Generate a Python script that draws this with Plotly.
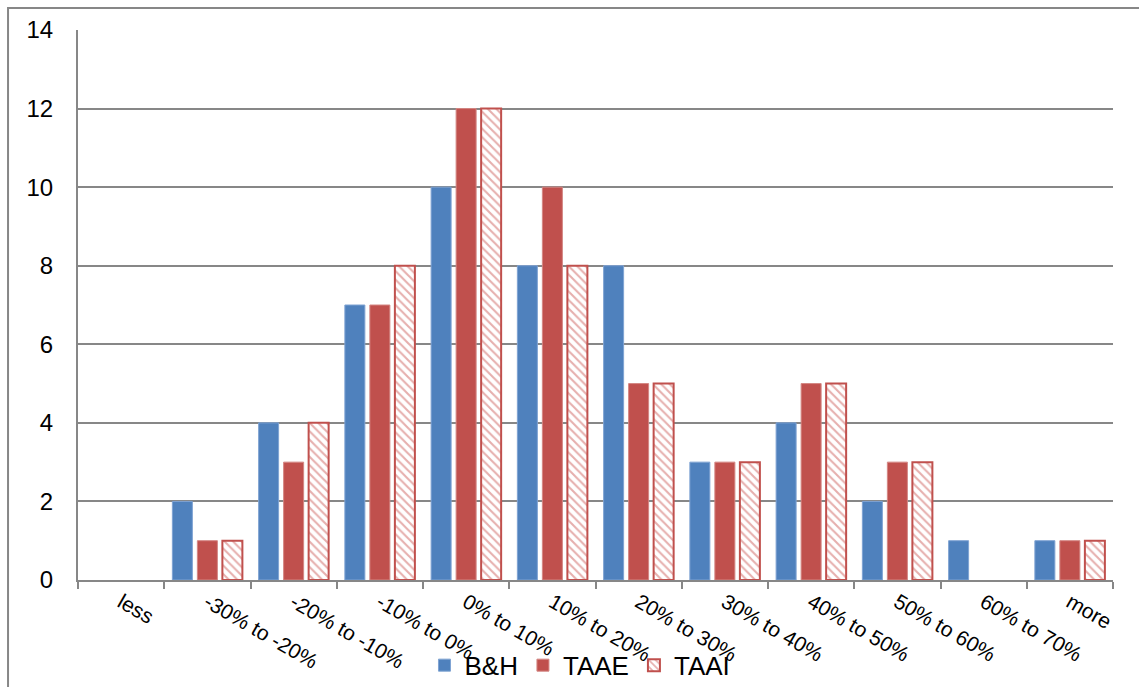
import plotly.graph_objects as go

categories = ["less", "-30% to -20%", "-20% to -10%", "-10% to 0%", "0% to 10%",
              "10% to 20%", "20% to 30%", "30% to 40%", "40% to 50%",
              "50% to 60%", "60% to 70%", "more"]
bh = [0, 2, 4, 7, 10, 8, 8, 3, 4, 2, 1, 1]
taae = [0, 1, 3, 7, 12, 10, 5, 3, 5, 3, 0, 1]
taai = [0, 1, 4, 8, 12, 8, 5, 3, 5, 3, 0, 1]
y_ticks = [0, 2, 4, 6, 8, 10, 12, 14]

BLUE = "#4F81BD"
RED = "#C0504D"
GRID = "#878787"
FONT = "Liberation Sans, Arial, sans-serif"


def drawn(values):
    # empty bins are left undrawn so their outline does not show on the axis
    return [v if v else None for v in values]


fig = go.Figure()
fig.add_trace(go.Bar(x=categories, y=drawn(bh), name="B&H",
                     marker=dict(color=BLUE, line=dict(color="#7FA3D3", width=1))))
fig.add_trace(go.Bar(x=categories, y=drawn(taae), name="TAAE",
                     marker=dict(color=RED, line=dict(color="#D48683", width=1))))
fig.add_trace(go.Bar(x=categories, y=drawn(taai), name="TAAI",
                     marker=dict(color="white",
                                 line=dict(color=RED, width=2),
                                 pattern=dict(shape="\\", fgcolor="#CD5F5C",
                                              bgcolor="white", size=6, solidity=0.35))))

fig.update_layout(
    width=1139, height=687,
    margin=dict(l=78, r=26, t=30, b=107, autoexpand=False),
    paper_bgcolor="white", plot_bgcolor="white",
    barmode="group", bargap=0.13, bargroupgap=0.2,
    font=dict(family=FONT, color="black"),
    legend=dict(orientation="h", x=0.485, xanchor="center", y=-0.155, yanchor="middle",
                font=dict(size=26, family=FONT), bgcolor="rgba(0,0,0,0)",
                itemwidth=30, tracegroupgap=0),
    showlegend=True,
)
fig.update_xaxes(
    type="category", tickangle=30, tickfont=dict(size=21, family=FONT),
    showline=True, linecolor=GRID, linewidth=2,
    ticks="outside", tickson="boundaries", ticklen=7, tickcolor=GRID, tickwidth=2,
    showgrid=False, mirror=False, automargin=False,
)
fig.update_yaxes(
    range=[0, 14], tickvals=y_ticks, tickfont=dict(size=24, family=FONT),
    showgrid=True, gridcolor=GRID, gridwidth=2,
    showline=True, linecolor=GRID, linewidth=2, ticks="", zeroline=False,
    ticklabelstandoff=18, automargin=False,
)
# outer chart frame
fig.add_shape(type="rect", xref="paper", yref="paper",
              x0=-0.0676, x1=1.05, y0=-0.3, y1=1.04,
              line=dict(color=GRID, width=2), fillcolor="rgba(0,0,0,0)", layer="below")

fig.write_html("out.html")
